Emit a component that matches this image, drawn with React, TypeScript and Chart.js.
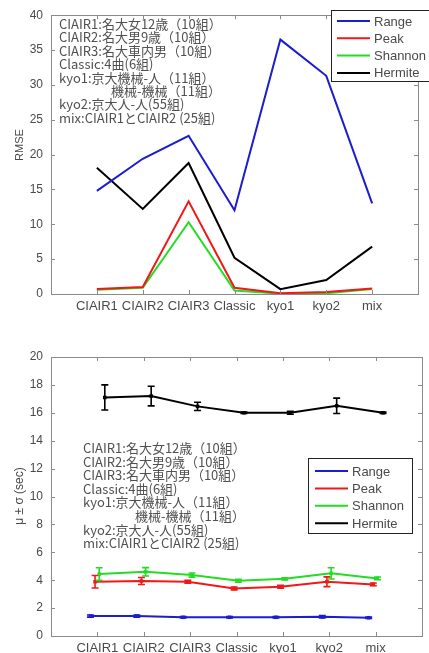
import React, { useEffect, useRef } from "react";
import { Chart, registerables } from "chart.js";

Chart.register(...registerables);

// ---------- data ----------
const categories = ["CIAIR1", "CIAIR2", "CIAIR3", "Classic", "kyo1", "kyo2", "mix"];
const seriesNames = ["Range", "Peak", "Shannon", "Hermite"];

const rmseRange = [14.8, 19.4, 22.7, 12.0, 36.5, 31.3, 13.0];
const rmsePeak = [0.7, 1.0, 13.3, 0.9, 0.1, 0.3, 0.8];
const rmseShannon = [0.6, 0.9, 10.3, 0.5, 0.05, 0.1, 0.7];
const rmseHermite = [18.1, 12.2, 18.8, 5.2, 0.7, 2.0, 6.8];

const meanRange = [1.43, 1.43, 1.34, 1.34, 1.34, 1.38, 1.31];
const sdRange = [0.08, 0.08, 0.05, 0.05, 0.05, 0.08, 0.05];
const meanPeak = [3.89, 3.94, 3.89, 3.41, 3.53, 3.89, 3.7];
const sdPeak = [0.45, 0.25, 0.1, 0.1, 0.1, 0.35, 0.1];
const meanShannon = [4.44, 4.6, 4.37, 3.96, 4.1, 4.49, 4.13];
const sdShannon = [0.45, 0.3, 0.15, 0.1, 0.08, 0.4, 0.1];
const meanHermite = [17.1, 17.2, 16.46, 16.0, 16.0, 16.5, 16.0];
const sdHermite = [0.9, 0.7, 0.3, 0.05, 0.1, 0.55, 0.05];

const rmseTicks = [0, 5, 10, 15, 20, 25, 30, 35, 40];
const sigmaTicks = [0, 2, 4, 6, 8, 10, 12, 14, 16, 18, 20];

const noteLines = [
  "CIAIR1:名大女12歳（10組）",
  "CIAIR2:名大男9歳（10組）",
  "CIAIR3:名大車内男（10組）",
  "Classic:4曲(6組)",
  "kyo1:京大機械-人（11組）",
  "　　　　機械-機械（11組）",
  "kyo2:京大人-人(55組)",
  "mix:CIAIR1とCIAIR2 (25組)",
];

const topTitle = "RMSE";
const bottomTitle = "μ ± σ (sec)";

// ---------- styles ----------
const COLORS = ["#1c1cd0", "#f01818", "#22dd22", "#000000"];
const FRAME = "#8a8a8a";
const TEXT = "#4a4a4a";
const SANS = "'Liberation Sans', Arial, sans-serif";
const CJK = "'Noto Sans CJK JP', 'Liberation Sans', sans-serif";

const framePlugin = {
  id: "frameDeco",
  afterDatasetsDraw(chart: any, _args: any, opts: any) {
    const { ctx, chartArea: a, scales } = chart;
    ctx.save();
    // frame
    ctx.strokeStyle = FRAME;
    ctx.lineWidth = 1;
    ctx.strokeRect(Math.round(a.left) + 0.5, Math.round(a.top) + 0.5, Math.round(a.right - a.left), Math.round(a.bottom - a.top));
    // ticks inward
    const tl = 4;
    ctx.beginPath();
    scales.x.ticks.forEach((t: any) => {
      const x = Math.round(scales.x.getPixelForValue(t.value)) + 0.5;
      ctx.moveTo(x, a.bottom);
      ctx.lineTo(x, a.bottom - tl);
      ctx.moveTo(x, a.top);
      ctx.lineTo(x, a.top + tl);
    });
    scales.y.ticks.forEach((t: any) => {
      const y = Math.round(scales.y.getPixelForValue(t.value)) + 0.5;
      ctx.moveTo(a.left, y);
      ctx.lineTo(a.left + tl, y);
      ctx.moveTo(a.right, y);
      ctx.lineTo(a.right - tl, y);
    });
    ctx.stroke();

    // y-axis title
    ctx.fillStyle = TEXT;
    ctx.font = opts.titleFont;
    ctx.translate(opts.titleX, opts.titleY);
    ctx.rotate(-Math.PI / 2);
    ctx.textAlign = "center";
    ctx.textBaseline = "middle";
    ctx.fillText(opts.title, 0, 0);
    ctx.restore();

    // notes
    ctx.save();
    ctx.fillStyle = "#505050";
    ctx.font = opts.noteFont;
    ctx.textAlign = "left";
    ctx.textBaseline = "middle";
    opts.notes.forEach((s: string, i: number) => {
      ctx.fillText(s, opts.noteX, opts.noteY + i * opts.noteStep);
    });
    ctx.restore();

    // legend
    const L = opts.legend;
    ctx.save();
    ctx.fillStyle = "#fff";
    ctx.fillRect(L.x, L.y, L.w, L.h);
    ctx.strokeStyle = "#222";
    ctx.lineWidth = 1;
    ctx.strokeRect(L.x + 0.5, L.y + 0.5, L.w, L.h);
    ctx.font = L.font;
    ctx.textBaseline = "middle";
    chart.data.datasets.forEach((ds: any, i: number) => {
      const y = L.y + L.first + i * L.step;
      ctx.strokeStyle = ds.borderColor;
      ctx.lineWidth = 2;
      ctx.beginPath();
      ctx.moveTo(L.x + L.lineStart, y);
      ctx.lineTo(L.x + L.lineStart + L.lineLen, y);
      ctx.stroke();
      ctx.fillStyle = TEXT;
      ctx.fillText(ds.label, L.x + L.lineStart + L.lineLen + 4, y + 1);
    });
    ctx.restore();
  },
};

const errorBarPlugin = {
  id: "errorBars",
  afterDatasetsDraw(chart: any) {
    const { ctx, scales } = chart;
    chart.data.datasets.forEach((ds: any, di: number) => {
      if (!ds.errors) return;
      const meta = chart.getDatasetMeta(di);
      ctx.save();
      ctx.strokeStyle = ds.borderColor;
      ctx.lineWidth = 1.6;
      meta.data.forEach((pt: any, i: number) => {
        const m = ds.data[i].y;
        const e = ds.errors[i];
        const x = pt.x;
        const y1 = scales.y.getPixelForValue(m + e);
        const y2 = scales.y.getPixelForValue(m - e);
        const c = 3.5;
        ctx.beginPath();
        ctx.moveTo(x, y1);
        ctx.lineTo(x, y2);
        ctx.moveTo(x - c, y1);
        ctx.lineTo(x + c, y1);
        ctx.moveTo(x - c, y2);
        ctx.lineTo(x + c, y2);
        ctx.stroke();
      });
      ctx.restore();
    });
  },
};

function makeOptions(p: {
  yMax: number;
  yTicks: number[];
  padTop: number;
  padRight: number;
  xHeight: number;
  deco: any;
}) {
  return {
    responsive: false,
    maintainAspectRatio: false,
    animation: false as const,
    events: [] as any[],
    layout: { padding: { left: 0, right: p.padRight, top: p.padTop, bottom: 0 } },
    plugins: {
      legend: { display: false },
      tooltip: { enabled: false },
      frameDeco: p.deco,
    },
    scales: {
      x: {
        type: "linear" as const,
        min: 0,
        max: 8,
        grid: { display: false, drawTicks: false },
        border: { display: false },
        afterBuildTicks: (s: any) => {
          s.ticks = categories.map((_, i) => ({ value: i + 1 }));
        },
        afterFit: (s: any) => {
          s.height = p.xHeight;
        },
        ticks: {
          autoSkip: false,
          maxRotation: 0,
          padding: 5,
          color: TEXT,
          font: { size: 13, family: SANS },
          callback: (v: any) => categories[Number(v) - 1] ?? "",
        },
      },
      y: {
        min: 0,
        max: p.yMax,
        grid: { display: false, drawTicks: false },
        border: { display: false },
        afterBuildTicks: (s: any) => {
          s.ticks = p.yTicks.map((v) => ({ value: v }));
        },
        afterFit: (s: any) => {
          s.width = 51;
        },
        ticks: {
          padding: 8,
          color: TEXT,
          font: { size: 12, family: SANS },
        },
      },
    },
  };
}

function TopChart() {
  const ref = useRef<HTMLCanvasElement>(null);
  useEffect(() => {
    const series = [rmseRange, rmsePeak, rmseShannon, rmseHermite];
    const chart = new Chart(ref.current as HTMLCanvasElement, {
      type: "line",
      data: {
        datasets: series.map((vals, si) => ({
          label: seriesNames[si],
          data: vals.map((v, i) => ({ x: i + 1, y: v })),
          borderColor: COLORS[si],
          backgroundColor: COLORS[si],
          borderWidth: 2,
          pointRadius: 0,
          tension: 0,
        })),
      },
      options: makeOptions({
        yMax: 40,
        yTicks: rmseTicks,
        padTop: 10,
        padRight: 11,
        xHeight: 28,
        deco: {
          title: topTitle,
          titleFont: `11px ${SANS}`,
          titleX: 20,
          titleY: 145,
          notes: noteLines,
          noteFont: `13px ${CJK}`,
          noteX: 59,
          noteY: 24,
          noteStep: 13.4,
          legend: { x: 331, y: 10, w: 102, h: 71, first: 11, step: 17.3, lineStart: 6, lineLen: 33, font: `13px ${SANS}` },
        },
      }) as any,
      plugins: [framePlugin],
    });
    return () => chart.destroy();
  }, []);
  return <canvas ref={ref} width={429} height={322} style={{ position: "absolute", left: 0, top: 0, width: 429, height: 322 }} />;
}

function BottomChart() {
  const ref = useRef<HTMLCanvasElement>(null);
  useEffect(() => {
    const means = [meanRange, meanPeak, meanShannon, meanHermite];
    const sds = [sdRange, sdPeak, sdShannon, sdHermite];
    const shift = [-0.15, -0.05, 0.04, 0.16];
    const chart = new Chart(ref.current as HTMLCanvasElement, {
      type: "line",
      data: {
        datasets: means.map((vals, si) => ({
          label: seriesNames[si],
          data: vals.map((v, i) => ({ x: i + 1 + shift[si], y: v })),
          errors: sds[si],
          borderColor: COLORS[si],
          backgroundColor: COLORS[si],
          borderWidth: 2,
          pointRadius: 2.5,
          pointStyle: "rect",
          pointBorderWidth: 0,
          tension: 0,
        })) as any,
      },
      options: makeOptions({
        yMax: 20,
        yTicks: sigmaTicks,
        padTop: 27,
        padRight: 7,
        xHeight: 17,
        deco: {
          title: bottomTitle,
          titleFont: `12px ${SANS}`,
          titleX: 20,
          titleY: 166,
          notes: noteLines,
          noteFont: `13px ${CJK}`,
          noteX: 83,
          noteY: 118,
          noteStep: 13.6,
          legend: { x: 308, y: 128, w: 104, h: 75, first: 13, step: 17.4, lineStart: 7, lineLen: 33, font: `13px ${SANS}` },
        },
      }) as any,
      plugins: [framePlugin, errorBarPlugin],
    });
    return () => chart.destroy();
  }, []);
  return <canvas ref={ref} width={429} height={323} style={{ position: "absolute", left: 0, top: 330, width: 429, height: 323 }} />;
}

export default function App() {
  return (
    <div style={{ position: "absolute", left: 0, top: 0, width: 429, height: 653, background: "#fff", overflow: "hidden" }}>
      <TopChart />
      <BottomChart />
    </div>
  );
}
